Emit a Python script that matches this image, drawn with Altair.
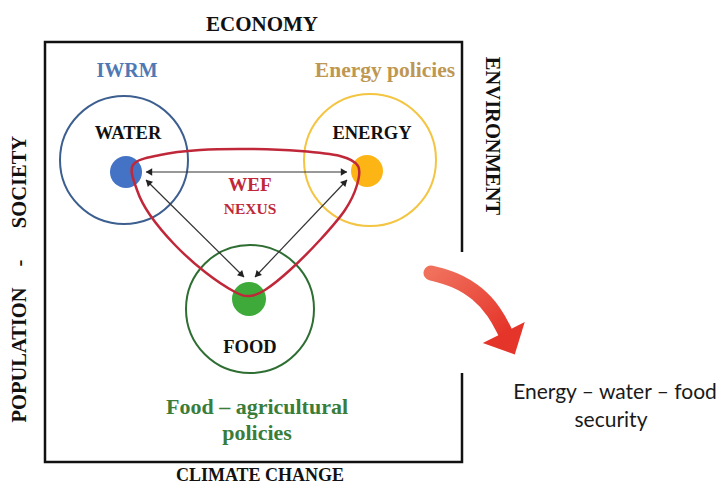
import math
import altair as alt
import pandas as pd

# ---------------- data (image-pixel coordinates) ----------------
# frame (open on the right side)
frame_x = [462, 462, 45, 45, 462, 462]
frame_y = [252, 42, 42, 462, 462, 373]

# big circles
circle_names = ["Water", "Energy", "Food"]
circle_x = [124, 370, 250]
circle_y = [160, 160, 309]
circle_r = [64, 66, 64]
circle_colors = ["#3D5F8F", "#F4C542", "#2F6E33"]

# filled dots
dot_x = [126, 367, 249]
dot_y = [172, 171, 299]
dot_r = [16, 16, 17]
dot_colors = ["#4472C4", "#FDB515", "#3DAA3A"]

# red WEF nexus loop (closed curve control points)
loop_x = [133, 160, 200, 250, 300, 340, 358, 357, 345, 320, 290, 265, 250, 235, 205, 175, 150, 137]
loop_y = [165, 155, 150, 149, 151, 156, 166, 185, 210, 240, 270, 290, 296, 292, 272, 245, 215, 190]

# double-headed black arrows (start, end)
arrow_x1 = [146, 146, 347]
arrow_y1 = [172, 180, 180]
arrow_x2 = [347, 244, 255]
arrow_y2 = [172, 277, 277]

# big red curved arrow
red_x = [431, 455, 478, 495, 505]
red_y = [273, 279, 293, 312, 332]
red_head = (509, 343)

# labels
cap_text = ["ECONOMY", "CLIMATE CHANGE"]
cap_x = [262, 260]
cap_y = [25, 476]
cap_size = [21, 18]

side_text = ["POPULATION", "-", "SOCIETY", "ENVIRONMENT"]
side_x = [20, 20, 20, 492]
side_y = [355, 263, 182, 136]
side_angle = [270, 270, 270, 90]

node_text = ["WATER", "ENERGY", "FOOD"]
node_x = [128, 372, 250]
node_y = [133, 133, 347]

policy_text = ["IWRM", "Energy policies", "Food \u2013 agricultural", "policies"]
policy_x = [127, 385, 257, 257]
policy_y = [71, 71, 407, 433]
policy_colors = ["#4E79B5", "#BE9752", "#3A7D3A", "#3A7D3A"]
policy_size = [20, 21.5, 22, 22]

wef_text = ["WEF", "NEXUS"]
wef_x = [250, 250]
wef_y = [185, 209]
wef_size = [19, 15.5]

sec_text = ["Energy \u2013 water \u2013 food", "security"]
sec_x = [615, 611]
sec_y = [393, 421]

# ---------------- scales ----------------
xs = alt.Scale(domain=[8, 719], nice=False, zero=False)
ys = alt.Scale(domain=[8, 486], nice=False, zero=False, reverse=True)
X = alt.X("x:Q", scale=xs, axis=None)
Y = alt.Y("y:Q", scale=ys, axis=None)

SERIF = "Liberation Serif"

frame = alt.Chart(pd.DataFrame({"x": frame_x, "y": frame_y, "o": range(len(frame_x))})).mark_line(
    color="#111111", strokeWidth=2.5, strokeJoin="miter"
).encode(x=X, y=Y, order="o:Q")

circ_df = pd.DataFrame({"x": circle_x, "y": circle_y, "s": [(2 * r) ** 2 for r in circle_r], "c": circle_colors})
circles = alt.Chart(circ_df).mark_point(shape="circle", filled=False, strokeWidth=2, opacity=1).encode(
    x=X, y=Y, size=alt.Size("s:Q", scale=None), color=alt.Color("c:N", scale=None)
)

dot_df = pd.DataFrame({"x": dot_x, "y": dot_y, "s": [(2 * r) ** 2 for r in dot_r], "c": dot_colors})
dots = alt.Chart(dot_df).mark_point(shape="circle", filled=True, opacity=1).encode(
    x=X, y=Y, size=alt.Size("s:Q", scale=None), color=alt.Color("c:N", scale=None)
)

loop = alt.Chart(pd.DataFrame({"x": loop_x, "y": loop_y, "o": range(len(loop_x))})).mark_line(
    color="#C0283A", strokeWidth=2.5, interpolate="cardinal-closed"
).encode(x=X, y=Y, order="o:Q")

# black arrows
seg_rows = []
head_rows = []
for i, (x1, y1, x2, y2) in enumerate(zip(arrow_x1, arrow_y1, arrow_x2, arrow_y2)):
    seg_rows.append({"x": x1, "y": y1, "g": i, "o": 0})
    seg_rows.append({"x": x2, "y": y2, "g": i, "o": 1})
    dx, dy = x2 - x1, y2 - y1
    L = math.hypot(dx, dy)
    ux, uy = dx / L, dy / L
    ang_fwd = math.degrees(math.atan2(dx, -dy)) % 360
    head_rows.append({"x": x2 - ux * 3, "y": y2 - uy * 3, "a": ang_fwd})
    head_rows.append({"x": x1 + ux * 3, "y": y1 + uy * 3, "a": (ang_fwd + 180) % 360})
segs = alt.Chart(pd.DataFrame(seg_rows)).mark_line(color="#333333", strokeWidth=1.2).encode(
    x=X, y=Y, detail="g:N", order="o:Q"
)
heads = alt.Chart(pd.DataFrame(head_rows)).mark_point(
    shape="triangle-up", filled=True, color="#222222", size=55, opacity=1
).encode(x=X, y=Y, angle=alt.Angle("a:Q", scale=None))

# red curved arrow
red_grad = alt.Gradient(
    gradient="linear",
    stops=[alt.GradientStop(color="#F0705C", offset=0), alt.GradientStop(color="#E5352A", offset=1)],
    x1=0, x2=1, y1=0, y2=1,
)
red_shaft = alt.Chart(pd.DataFrame({"x": red_x, "y": red_y, "o": range(len(red_x))})).mark_line(
    color=red_grad, strokeWidth=15, strokeCap="round", interpolate="basis"
).encode(x=X, y=Y, order="o:Q")
hdx, hdy = red_x[-1] - red_x[-2], red_y[-1] - red_y[-2]
head_ang = (math.degrees(math.atan2(hdx, -hdy)) - 180) % 360
red_tip = alt.Chart(pd.DataFrame({"x": [red_head[0]], "y": [red_head[1]], "a": [head_ang]})).mark_point(
    shape="M-1,-0.5L1,-0.5L0,0.55Z", filled=True, color="#E5352A", size=2200, opacity=1
).encode(x=X, y=Y, angle=alt.Angle("a:Q", scale=None))

# texts
caps = alt.Chart(pd.DataFrame({"x": cap_x, "y": cap_y, "t": cap_text, "s": cap_size})).mark_text(
    font=SERIF, fontWeight="bold", color="#111111", baseline="middle", align="center"
).encode(x=X, y=Y, text="t:N", size=alt.Size("s:Q", scale=None))

sides = alt.layer(*[
    alt.Chart(pd.DataFrame({"x": [side_x[i]], "y": [side_y[i]], "t": [side_text[i]]})).mark_text(
        font=SERIF, fontWeight="bold", fontSize=20.5, color="#111111", baseline="middle", align="center",
        angle=side_angle[i]
    ).encode(x=X, y=Y, text="t:N")
    for i in range(len(side_text))
])

nodes = alt.Chart(pd.DataFrame({"x": node_x, "y": node_y, "t": node_text})).mark_text(
    font=SERIF, fontWeight="bold", fontSize=18.5, color="#111111", baseline="middle", align="center"
).encode(x=X, y=Y, text="t:N")

policies = alt.Chart(pd.DataFrame({"x": policy_x, "y": policy_y, "t": policy_text, "c": policy_colors,
                                   "s": policy_size})).mark_text(
    font=SERIF, fontWeight="bold", baseline="middle", align="center"
).encode(x=X, y=Y, text="t:N", color=alt.Color("c:N", scale=None), size=alt.Size("s:Q", scale=None))

wef = alt.Chart(pd.DataFrame({"x": wef_x, "y": wef_y, "t": wef_text, "s": wef_size})).mark_text(
    font=SERIF, fontWeight="bold", color="#C0283A", baseline="middle", align="center"
).encode(x=X, y=Y, text="t:N", size=alt.Size("s:Q", scale=None))

security = alt.Chart(pd.DataFrame({"x": sec_x, "y": sec_y, "t": sec_text})).mark_text(
    font="Lato", fontSize=21, color="#1A1A1A", baseline="middle", align="center"
).encode(x=X, y=Y, text="t:N")

chart = alt.layer(
    frame, circles, dots, loop, segs, heads, red_shaft, red_tip,
    caps, sides, nodes, policies, wef, security
).properties(
    width=711, height=478, padding=0, autosize=alt.AutoSizeParams(type="none"),
    background="white"
).configure_view(stroke=None)

chart.save("out.html", embed_options={"renderer": "svg", "actions": False})
